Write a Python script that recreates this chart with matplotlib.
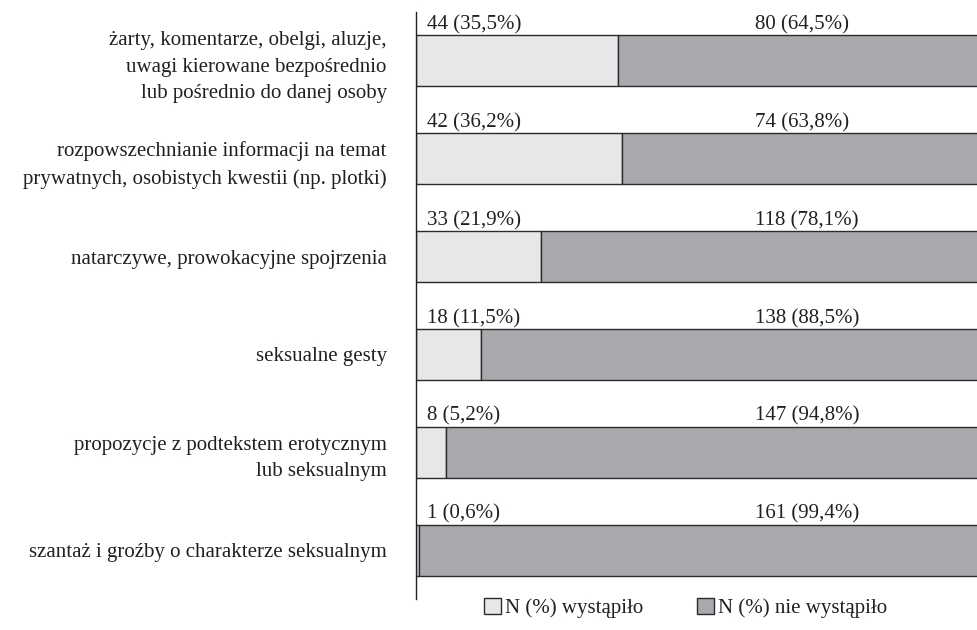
import matplotlib.pyplot as plt

categories = [
    'żarty, komentarze, obelgi, aluzje,\nuwagi kierowane bezpośrednio\nlub pośrednio do danej osoby',
    'rozpowszechnianie informacji na temat\nprywatnych, osobistych kwestii (np. plotki)',
    'natarczywe, prowokacyjne spojrzenia',
    'seksualne gesty',
    'propozycje z podtekstem erotycznym\nlub seksualnym',
    'szantaż i groźby o charakterze seksualnym',
]
n_yes = [44, 42, 33, 18, 8, 1]
pct_yes = [35.5, 36.2, 21.9, 11.5, 5.2, 0.6]
n_no = [80, 74, 118, 138, 147, 161]
pct_no = [64.5, 63.8, 78.1, 88.5, 94.8, 99.4]

color_yes = '#e6e7e8'
color_no = '#a7a9ac'
edge = '#2b2b2b'

plt.rcParams['font.family'] = ['Liberation Serif', 'DejaVu Serif']
plt.rcParams['font.size'] = 15

fig = plt.figure(figsize=(9.77, 6.3), dpi=100)
ax = fig.add_axes([416 / 977, 31 / 630, 569 / 977, 587 / 630])

ypos = list(range(len(categories)))
bh = 0.52
ax.barh(ypos, pct_yes, height=bh, color=color_yes, edgecolor=edge, linewidth=1,
        label='N (%) wystąpiło')
ax.barh(ypos, pct_no, left=pct_yes, height=bh, color=color_no, edgecolor=edge, linewidth=1,
        label='N (%) nie wystąpiło')

def fmt(v):
    return f'{v:.1f}'.replace('.', ',')

for y, a, pa, b, pb in zip(ypos, n_yes, pct_yes, n_no, pct_no):
    ax.text(1.9, y - bh / 2 - 0.01, f'{a} ({fmt(pa)}%)', ha='left', va='bottom', color='#231f20')
    ax.text(59.6, y - bh / 2 - 0.01, f'{b} ({fmt(pb)}%)', ha='left', va='bottom', color='#231f20')

ax.set_xlim(0, 100)
ax.set_ylim(5.5, -0.5)
ax.set_yticks(ypos)
ax.set_yticklabels(categories, color='#231f20', linespacing=1.55)
ax.tick_params(axis='y', length=0, pad=21)
ax.set_xticks([])
for s in ['top', 'right', 'bottom']:
    ax.spines[s].set_visible(False)
ax.spines['left'].set_color('#231f20')
ax.spines['left'].set_linewidth(1)

fig.legend(loc='center', bbox_to_anchor=(0.702, 22 / 630), ncol=2, frameon=False,
           handlelength=0.8, handleheight=0.8, handletextpad=0.2, columnspacing=2.6,
           labelcolor='#231f20')

fig.savefig('out.png', dpi=100)
